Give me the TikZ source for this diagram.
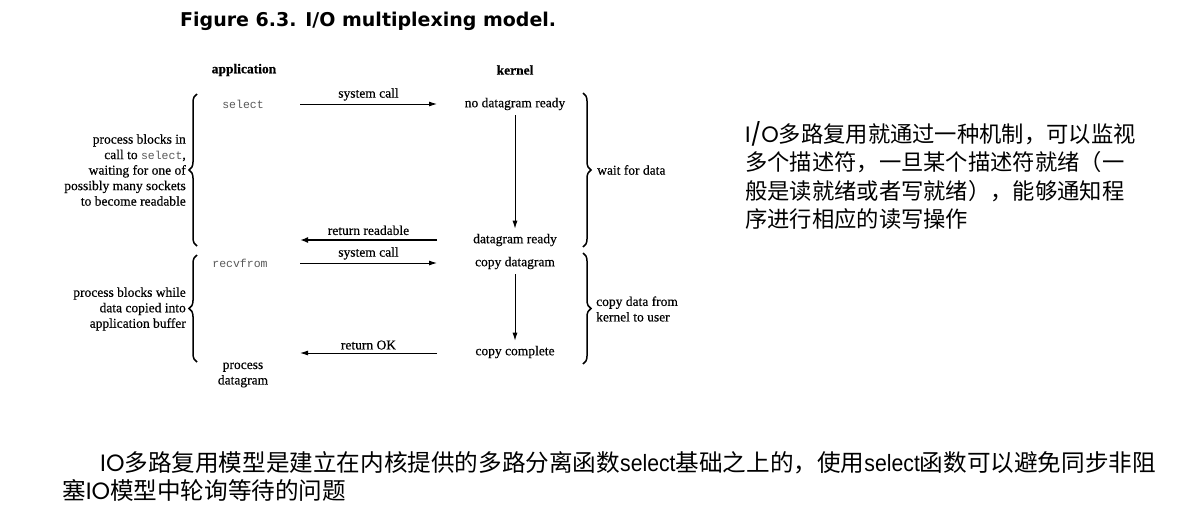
\documentclass[tikz,border=0pt]{standalone}
\usepackage{fontspec}
\setmainfont{Liberation Serif}[FakeBold=0.4]
\setmonofont{Liberation Mono}
\newfontfamily\cjk{Noto Sans CJK SC}
\newfontfamily\geo{Poppins}
\newfontfamily\narrowsans[FakeStretch=0.9]{Liberation Sans}
\newfontfamily\titlefont{DejaVu Sans}
\usetikzlibrary{arrows.meta,decorations.pathreplacing}
\tikzset{
  lbl/.style={font=\fontsize{13.5}{15.5}\selectfont, inner sep=0pt},
  hdr/.style={font=\fontsize{13.5}{15.5}\selectfont\bfseries, inner sep=0pt},
  monost/.style={font=\fontsize{11.5}{13}\selectfont\ttfamily, text=black!65, inner sep=0pt},
  arr/.style={-{Latex[length=8pt,width=5pt]}, line width=0.9pt},
  thickarr/.style={-{Latex[length=8pt,width=6pt]}, line width=1.9pt},
  brc/.style={decorate, decoration={brace, amplitude=8pt}, line width=1.5pt},
  cjktext/.style={font=\fontsize{22.3}{28}\selectfont\cjk, inner sep=0pt, anchor=west},
  cjkbottom/.style={font=\fontsize{23.6}{28}\selectfont\cjk, inner sep=0pt, anchor=west},
}
\newcommand{\selmono}{{\fontsize{11.5}{13}\selectfont\ttfamily\color{black!65}select}}
\begin{document}
\begin{tikzpicture}[x=1pt,y=-1pt]
\useasboundingbox (0,0) rectangle (1185,512);
\fill[white] (0,0) rectangle (1185,512);

\node[anchor=west, inner sep=0pt, font=\fontsize{19}{22}\selectfont\titlefont\bfseries] (title) at (180,21) {Figure 6.3. I/O multiplexing model.};

\node[hdr] (app) at (244,70) {application};
\node[hdr] (ker) at (515,70) {kernel};

% phase 1
\node[monost] (sel) at (243,104) {select};
\node[lbl] (ndr) at (515,104) {no datagram ready};
\coordinate (s1a) at (300,104);
\coordinate (s1b) at (437,104);
\draw[arr] (s1a) -- node[lbl, above=3pt] (sc1) {system call} (s1b);

\node[lbl] (dr) at (515,240) {datagram ready};
\draw[arr, shorten <=5pt, shorten >=5pt] (ndr.south) -- (dr.north);
\coordinate (r1a) at (437,240);
\coordinate (r1b) at (300,240);
\draw[thickarr] (r1a) -- node[lbl, above=4pt] (rr) {return readable} (r1b);

% phase 2
\node[monost] (rcv) at (240,263) {recvfrom};
\node[lbl] (cd) at (515,263) {copy datagram};
\coordinate (s2a) at (300,263);
\coordinate (s2b) at (437,263);
\draw[arr] (s2a) -- node[lbl, above=3pt] (sc2) {system call} (s2b);

\node[lbl] (cc) at (515,352) {copy complete};
\draw[arr, shorten <=5pt, shorten >=5pt] (cd.south) -- (cc.north);
\coordinate (r2a) at (437,353);
\coordinate (r2b) at (300,353);
\draw[arr] (r2a) -- node[lbl, above=3pt] (rok) {return OK} (r2b);

\node[lbl, align=center] (pd) at (243,375) {process\\datagram};

% left braces and texts
\draw[brc] (197,246) -- (197,94);
\node[lbl, align=right, anchor=east] (lt1) at (186,170) {process blocks in\\call to \selmono,\\waiting for one of\\possibly many sockets\\to become readable};
\draw[brc] (197,362) -- (197,255);
\node[lbl, align=right, anchor=east] (lt2) at (186,309) {process blocks while\\data copied into\\application buffer};

% right braces and texts
\draw[brc] (583,93) -- (583,247);
\node[lbl, anchor=west] (wfd) at (597,170) {wait for data};
\draw[brc] (583,253) -- (583,364);
\node[lbl, align=left, anchor=west] (cdk) at (596,309) {copy data from\\kernel to user};

% right Chinese text
\node[cjktext] (c1) at (745,134) {{\geo I/O}多路复用就通过一种机制，可以监视};
\node[cjktext] (c2) at (745,162) {多个描述符，一旦某个描述符就绪（一};
\node[cjktext] (c3) at (745,191) {般是读就绪或者写就绪），能够通知程};
\node[cjktext] (c4) at (745,219) {序进行相应的读写操作};

% bottom text
\node[cjkbottom] (b1) at (100,463) {{\geo IO}多路复用模型是建立在内核提供的多路分离函数{\narrowsans select}基础之上的，使用{\narrowsans select}函数可以避免同步非阻};
\node[cjkbottom] (b2) at (62,490) {塞{\geo IO}模型中轮询等待的问题};
\end{tikzpicture}
\end{document}
